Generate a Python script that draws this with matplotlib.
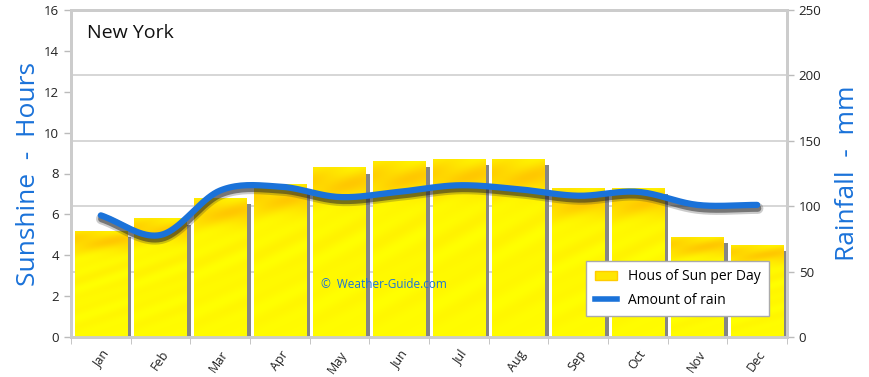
import numpy as np
import matplotlib
matplotlib.use("Agg")
import matplotlib.pyplot as plt
import matplotlib.patheffects as pe
from matplotlib.patches import Patch
from matplotlib.lines import Line2D

months = ["Jan", "Feb", "Mar", "Apr", "May", "Jun", "Jul", "Aug", "Sep", "Oct", "Nov", "Dec"]
sun_hours = [5.2, 5.8, 6.8, 7.5, 8.3, 8.6, 8.7, 8.7, 7.3, 7.3, 4.9, 4.5]
rain_mm = [93, 78, 112, 115, 107, 111, 116, 113, 108, 111, 101, 101]
left_ticks = [0, 2, 4, 6, 8, 10, 12, 14, 16]
right_ticks = [0, 50, 100, 150, 200, 250]

plt.rcParams['font.family'] = ['Open Sans', 'DejaVu Sans']
BLUE = "#1a72d9"

fig = plt.figure(figsize=(8.7, 3.77), dpi=100)
ax = fig.add_axes([71/870, 40/377, (787-71)/870, (337-10)/377])
ax2 = ax.twinx()

x = np.arange(len(months))
ax.set_xlim(-0.5, 11.5)
ax.set_ylim(0, 16)
ax2.set_ylim(0, 250)
ax2.set_xlim(-0.5, 11.5)

# gridlines following rainfall axis, drawn behind bars
for t in right_ticks[1:-1]:
    ax.axhline(t * 16 / 250, color="#d0d0d0", lw=1.2, zorder=0)

# texture for bars
H, W = 400, 120
yy, xx = np.mgrid[0:H, 0:W]
streak = 0.5 + 0.5*np.sin((yy*0.09 + xx*0.05)) * np.sin(yy*0.023 + xx*0.011)
streak = np.clip(streak, 0, 1)
yellow = np.array([1.0, 1.0, 0.0])
orange = np.array([1.0, 0.74, 0.0])

bw = 0.88
for i, h in enumerate(sun_hours):
    ax.bar(i + bw/2 + 0.035, h - 0.3, width=0.07, bottom=0, color="#858585", zorder=2, linewidth=0)
    bars = ax.bar(i, h, width=bw, color="#ffff00", zorder=3, linewidth=0)
    b = bars[0]
    rel = yy / H
    band = np.exp(-((rel - 0.10) / 0.09) ** 2)
    w = np.clip(0.7*band + 0.3*streak*(1 - rel*0.6), 0, 1)[..., None]
    img = yellow*(1 - w*0.85) + orange*(w*0.85)
    im = ax.imshow(img, extent=(i - bw/2, i + bw/2, 0, h), aspect="auto", zorder=4, origin="upper")
    im.set_clip_path(b)

ax.set_xlim(-0.5, 11.5)
ax.set_ylim(0, 16)

def catmull(xs, ys, n=20):
    xs = np.asarray(xs, float); ys = np.asarray(ys, float)
    px = np.concatenate([[2*xs[0]-xs[1]], xs, [2*xs[-1]-xs[-2]]])
    py = np.concatenate([[2*ys[0]-ys[1]], ys, [2*ys[-1]-ys[-2]]])
    ox, oy = [], []
    for k in range(1, len(px) - 2):
        t = np.linspace(0, 1, n, endpoint=False)
        for p, o in ((px, ox), (py, oy)):
            p0, p1, p2, p3 = p[k-1], p[k], p[k+1], p[k+2]
            o.extend(0.5*((2*p1) + (-p0+p2)*t + (2*p0-5*p1+4*p2-p3)*t**2 + (-p0+3*p1-3*p2+p3)*t**3))
    ox.append(xs[-1]); oy.append(ys[-1])
    return np.array(ox), np.array(oy)

sx, sy = catmull(x, rain_mm)
ax.set_zorder(1)
ax2.set_zorder(2)
ax2.patch.set_visible(False)
ax2.plot(sx, sy, color=BLUE, lw=4.5, solid_capstyle="round", zorder=5,
         path_effects=[pe.SimpleLineShadow(offset=(0.5, -2.5), shadow_color="#333333", alpha=0.25, linewidth=8),
                       pe.SimpleLineShadow(offset=(0.5, -2.5), shadow_color="#222222", alpha=0.5, linewidth=5),
                       pe.Normal()])

for a in (ax, ax2):
    for s in a.spines.values():
        s.set_color("#cccccc")
        s.set_linewidth(2)
    a.tick_params(colors="#222222", labelsize=9.5, length=5, width=1, color="#bbbbbb")
ax.set_yticks(left_ticks)
ax2.set_yticks(right_ticks)
ax.set_xticks(x)
ax.set_xticklabels(months, rotation=55, ha="right", rotation_mode="anchor", fontsize=9)
ax.set_xticks(np.arange(-0.5, 12, 1), minor=True)
ax.tick_params(axis="x", which="major", length=0, pad=8)
ax.tick_params(axis="x", which="minor", length=5, color="#bbbbbb")

ax.set_ylabel("Sunshine  -  Hours", color=BLUE, fontsize=19, labelpad=2)
ax2.set_ylabel("Rainfall  -  mm", color=BLUE, fontsize=19, labelpad=10)

ax.text(0.022, 0.93, "New York", transform=ax.transAxes, fontsize=14, color="#111111", va="center", ha="left")
ax.text(4.75, 2.55, "\u00a9  Weather-Guide.com", color=BLUE, fontsize=8.5, ha="center", va="center", zorder=6)

handles = [Patch(facecolor="#ffe600", edgecolor="#ffcc00"), Line2D([0], [0], color=BLUE, lw=4)]
leg = ax2.legend(handles, ["Hous of Sun per Day", "Amount of rain"], loc="lower right",
                 bbox_to_anchor=(776/870, 54/377), bbox_transform=fig.transFigure,
                 fontsize=10, frameon=True, fancybox=False, edgecolor="#aaaaaa", framealpha=1,
                 handlelength=1.6, labelspacing=0.6, borderpad=0.6)
leg.get_frame().set_linewidth(1)
leg.set_zorder(10)

fig.savefig("out.png", dpi=100)
